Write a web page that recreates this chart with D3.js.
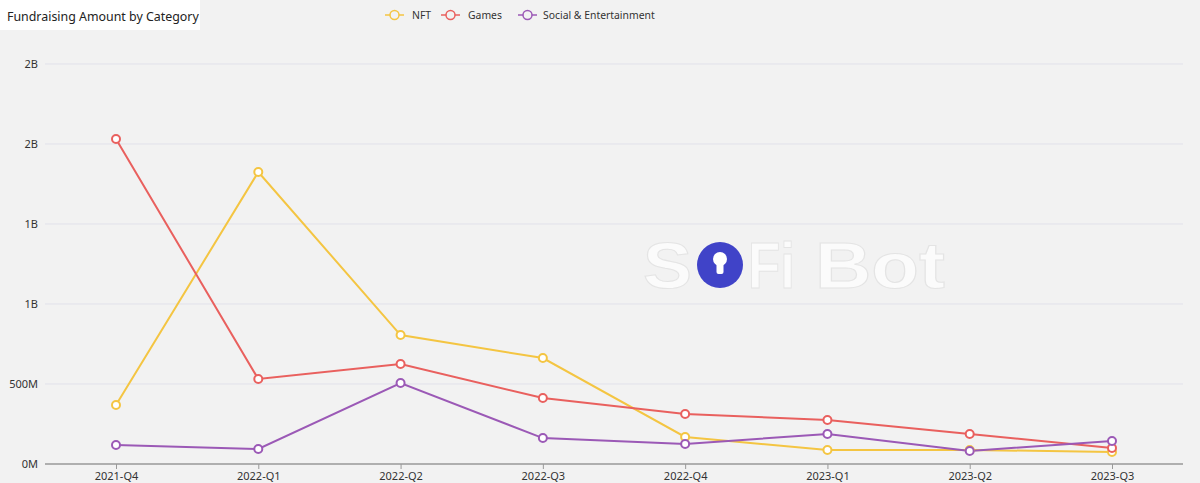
<!DOCTYPE html>
<html>
<head>
<meta charset="utf-8">
<script src="https://cdn.jsdelivr.net/npm/d3@7"></script>
<style>
  body { margin: 0; background: #f2f2f2; }
  svg { display: block; font-family: "Noto Sans", "DejaVu Sans", sans-serif; }
</style>
</head>
<body>
<div id="chart"></div>
<script>
// data (values in millions)
const quarters = ["2021-Q4", "2022-Q1", "2022-Q2", "2022-Q3", "2022-Q4", "2023-Q1", "2023-Q2", "2023-Q3"];
const nft = [369, 1825, 806, 662, 169, 88, 88, 75];
const games = [2031, 531, 625, 412, 312, 275, 188, 100];
const social = [119, 94, 506, 162, 125, 188, 81, 144];
const seriesNames = ["NFT", "Games", "Social & Entertainment"];
const yTicks = [0, 500, 1000, 1500, 2000, 2500];
const yTickLabels = ["0M", "500M", "1B", "1B", "2B", "2B"];

const width = 1200, height = 483;
const colors = ["#f4c542", "#e9605e", "#9b59b6"];
const allSeries = [nft, games, social];

const svg = d3.select("#chart").append("svg")
  .attr("width", width)
  .attr("height", height);

svg.append("rect").attr("width", width).attr("height", height).attr("fill", "#f2f2f2");

// title box
svg.append("rect").attr("x", 0).attr("y", 0).attr("width", 200).attr("height", 30).attr("fill", "#fff");
svg.append("text").attr("x", 7).attr("y", 21)
  .attr("font-size", 12.4).attr("fill", "#222")
  .text("Fundraising Amount by Category");

const x = d3.scalePoint().domain(quarters).range([116, 1112]);
const y = d3.scaleLinear().domain([0, 2500]).range([464, 64]);

// gridlines
svg.append("g").selectAll("line")
  .data(yTicks.slice(1))
  .enter().append("line")
  .attr("x1", 45).attr("x2", 1183)
  .attr("y1", d => y(d)).attr("y2", d => y(d))
  .attr("stroke", "#e1e1ea").attr("stroke-width", 1);

// y labels
svg.append("g").selectAll("text")
  .data(yTicks)
  .enter().append("text")
  .attr("x", 38).attr("y", d => y(d) + 4)
  .attr("text-anchor", "end")
  .attr("font-size", 11).attr("fill", "#333")
  .text((d, i) => yTickLabels[i]);

// watermark
const wm = svg.append("g");
const wmText = (str, x0, len) => wm.append("text").attr("x", x0).attr("y", 288)
  .attr("font-family", "Liberation Sans, Arial, sans-serif")
  .attr("font-weight", "bold").attr("font-size", 64)
  .attr("textLength", len).attr("lengthAdjust", "spacingAndGlyphs")
  .attr("fill", "#fbfbfb").attr("stroke", "#e4e4e4").attr("stroke-width", 1)
  .text(str);
wmText("S", 643, 49);
wm.append("circle").attr("cx", 720).attr("cy", 265).attr("r", 23).attr("fill", "#4043c8");
wm.append("circle").attr("cx", 720).attr("cy", 259).attr("r", 7).attr("fill", "#fff");
wm.append("rect").attr("x", 716.5).attr("y", 260).attr("width", 7).attr("height", 14).attr("rx", 2).attr("fill", "#fff");
wmText("Fi", 748, 47);
wmText("Bot", 815, 130);

// x axis
const xAxis = d3.axisBottom(x).tickSize(5).tickPadding(3);
const gx = svg.append("g").attr("transform", "translate(0,464)").call(xAxis);
gx.select(".domain").remove();
gx.append("line").attr("x1", 45).attr("x2", 1183).attr("y1", 0).attr("y2", 0)
  .attr("stroke", "#999").attr("stroke-width", 1.5);
gx.selectAll(".tick line").attr("stroke", "#999");
gx.selectAll(".tick text").attr("font-size", 11).attr("fill", "#333")
  .attr("font-family", "Noto Sans, sans-serif");

// lines and markers
const line = d3.line().x((d, i) => x(quarters[i])).y(d => y(d));
allSeries.forEach((s, k) => {
  svg.append("path").datum(s)
    .attr("d", line)
    .attr("fill", "none")
    .attr("stroke", colors[k]).attr("stroke-width", 2);
});
allSeries.forEach((s, k) => {
  svg.append("g").selectAll("circle")
    .data(s).enter().append("circle")
    .attr("cx", (d, i) => x(quarters[i])).attr("cy", d => y(d))
    .attr("r", 4).attr("fill", "#fff")
    .attr("stroke", colors[k]).attr("stroke-width", 2);
});

// legend
const legendX = [385, 441, 518];
const leg = svg.append("g").selectAll("g")
  .data(seriesNames).enter().append("g")
  .attr("transform", (d, i) => `translate(${legendX[i]},15)`);
leg.append("line").attr("x1", 0).attr("x2", 19).attr("stroke", (d, i) => colors[i]).attr("stroke-width", 1.5);
leg.append("circle").attr("cx", 9.5).attr("r", 4.5).attr("fill", "#f2f2f2")
  .attr("stroke", (d, i) => colors[i]).attr("stroke-width", 1.5);
leg.append("text").attr("x", (d, i) => i === 0 ? 27 : i === 1 ? 27 : 25).attr("y", 4)
  .attr("font-size", 10.4).attr("fill", "#333")
  .text(d => d);
</script>
</body>
</html>
